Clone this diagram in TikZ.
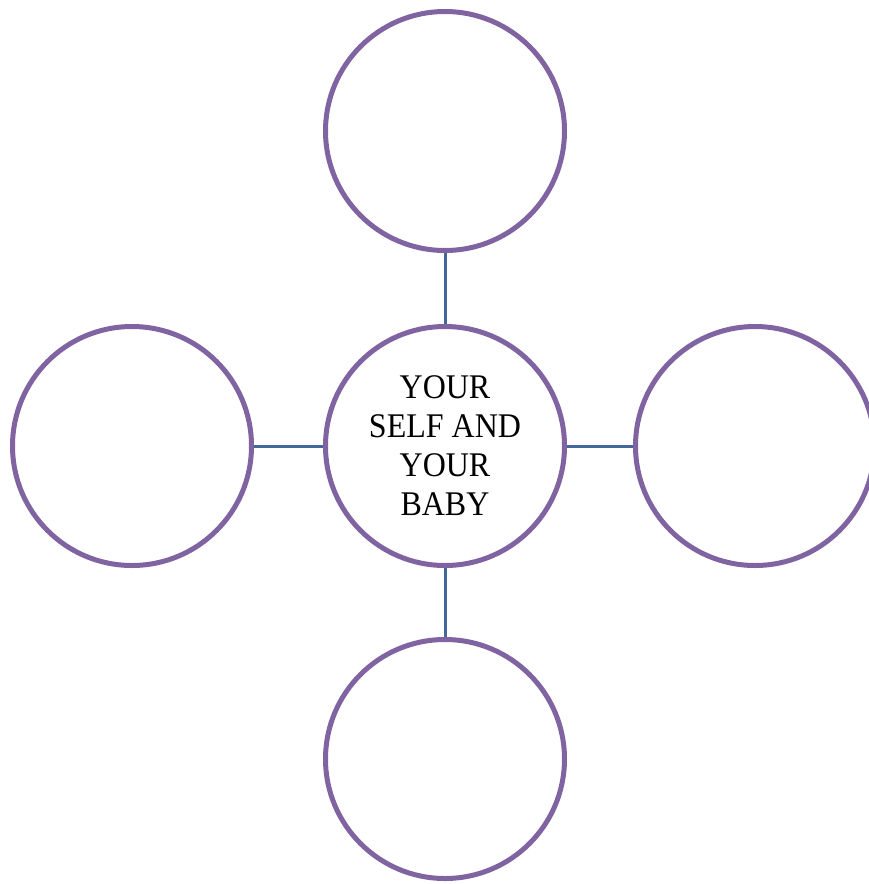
\documentclass[tikz,border=0pt]{standalone}
\usepackage{fontspec}
\setmainfont{Liberation Serif}
\definecolor{ringpurple}{HTML}{8064A2}
\definecolor{linkblue}{HTML}{43679A}
\begin{document}
\begin{tikzpicture}[x=1pt,y=-1pt,
  ring/.style={circle,draw=ringpurple,line width=5pt,fill=white,minimum size=239pt,inner sep=0pt},
  link/.style={draw=linkblue,line width=3pt}]
\useasboundingbox (0,0) rectangle (869,884);
\begin{scope}
\clip (0,0) rectangle (869,884);
\node[ring] (top) at (445,131) {};
\node[ring] (left) at (132,446) {};
\node[ring] (right) at (755,446) {};
\node[ring] (bottom) at (445,759) {};
\node[ring,align=center,font=\fontsize{32}{39}\selectfont] (mid) at (445,446) {\scalebox{1}[1.08]{YOUR}\\\scalebox{1}[1.08]{SELF AND}\\\scalebox{1}[1.08]{YOUR}\\\scalebox{1}[1.08]{BABY}};
\draw[link] (top.south) -- (mid.north);
\draw[link] (mid.south) -- (bottom.north);
\draw[link] (left.east) -- (mid.west);
\draw[link] (mid.east) -- (right.west);
\end{scope}
\end{tikzpicture}
\end{document}
